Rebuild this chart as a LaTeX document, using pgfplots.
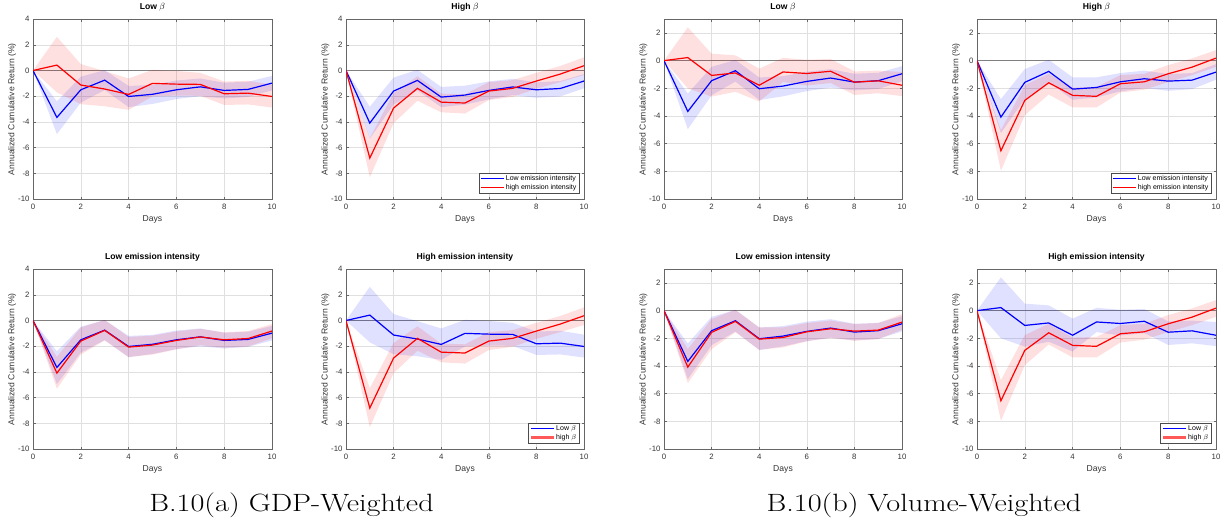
\documentclass[border=0pt]{standalone}
\usepackage{fontspec}
\setsansfont{Liberation Sans}
\usepackage{graphicx}
\usepackage{pgfplots}
\pgfplotsset{compat=1.18}
\usepackage{pgfplotstable}
\usepgfplotslibrary{fillbetween}

% ---------- Group (a): GDP-weighted ----------
% LL = low beta, low emission; LH = low beta, high emission; HL = high beta, low emission; HH = high beta, high emission
\pgfplotstableread{
x m lo hi
0 0 0 0
1 -3.65 -4.95 -2.40
2 -1.50 -2.50 -0.48
3 -0.75 -1.52 0.03
4 -2.02 -2.85 -1.20
5 -1.85 -2.60 -1.12
6 -1.50 -2.22 -0.78
7 -1.27 -2.00 -0.62
8 -1.55 -2.18 -0.95
9 -1.47 -2.05 -0.87
10 -0.98 -1.55 -0.42
}\LLa
\pgfplotstableread{
x m lo hi
0 0 0 0
1 0.42 -1.70 2.62
2 -1.13 -2.62 0.50
3 -1.44 -2.78 -0.05
4 -1.86 -3.06 -0.62
5 -1.00 -2.02 0.05
6 -1.06 -1.95 -0.04
7 -1.08 -1.97 -0.18
8 -1.81 -2.68 -0.86
9 -1.76 -2.64 -0.80
10 -2.02 -2.88 -1.10
}\LHa
\pgfplotstableread{
x m lo hi
0 0 0 0
1 -4.09 -5.30 -2.82
2 -1.60 -2.65 -0.55
3 -0.77 -1.55 0.05
4 -2.07 -2.85 -1.28
5 -1.91 -2.65 -1.18
6 -1.55 -2.25 -0.85
7 -1.28 -1.92 -0.65
8 -1.50 -2.12 -0.92
9 -1.40 -2.02 -0.82
10 -0.82 -1.38 -0.28
}\HLa
\pgfplotstableread{
x m lo hi
0 0 0 0
1 -6.81 -8.30 -5.26
2 -2.92 -4.10 -1.75
3 -1.39 -2.35 -0.45
4 -2.46 -3.25 -1.80
5 -2.53 -3.35 -1.85
6 -1.60 -2.30 -0.90
7 -1.39 -2.05 -0.75
8 -0.82 -1.42 -0.18
9 -0.28 -0.90 0.35
10 0.37 -0.35 1.02
}\HHa

% ---------- Group (b): volume-weighted ----------
\pgfplotstableread{
x m lo hi
0 0 0 0
1 -3.67 -4.95 -2.38
2 -1.45 -2.50 -0.45
3 -0.73 -1.52 0.05
4 -2.03 -2.85 -1.22
5 -1.84 -2.58 -1.12
6 -1.50 -2.20 -0.80
7 -1.26 -1.95 -0.62
8 -1.55 -2.15 -0.95
9 -1.45 -2.05 -0.88
10 -0.95 -1.50 -0.40
}\LLb
\pgfplotstableread{
x m lo hi
0 0 0 0
1 0.22 -2.00 2.40
2 -1.07 -2.60 0.50
3 -0.89 -2.25 0.38
4 -1.78 -2.95 -0.58
5 -0.82 -1.55 0.20
6 -0.93 -1.80 0.06
7 -0.77 -1.62 0.12
8 -1.56 -2.48 -0.78
9 -1.46 -2.36 -0.72
10 -1.78 -2.56 -0.82
}\LHb
\pgfplotstableread{
x m lo hi
0 0 0 0
1 -4.08 -5.23 -2.78
2 -1.57 -2.78 -0.61
3 -0.78 -1.55 0.06
4 -2.06 -2.83 -1.21
5 -1.94 -2.66 -1.21
6 -1.53 -2.22 -0.90
7 -1.31 -1.98 -0.72
8 -1.48 -2.18 -0.97
9 -1.41 -2.06 -0.90
10 -0.83 -1.38 -0.25
}\HLb
\pgfplotstableread{
x m lo hi
0 0 0 0
1 -6.51 -7.95 -5.02
2 -2.87 -3.94 -1.77
3 -1.60 -2.45 -0.95
4 -2.51 -3.38 -1.95
5 -2.58 -3.38 -1.90
6 -1.67 -2.30 -1.05
7 -1.53 -2.10 -0.95
8 -0.95 -1.55 -0.32
9 -0.47 -1.05 0.16
10 0.18 -0.45 0.76
}\HHb

% confidence band (fill between goes to layer "pre main", below the lines)
\newcommand{\band}[3]{% table, colour, name
  \addplot[name path=#3lo, draw=none, forget plot] table[x=x,y=lo]{#1};
  \addplot[name path=#3hi, draw=none, forget plot] table[x=x,y=hi]{#1};
  \addplot[fill=#2, fill opacity=0.12, draw=none, forget plot] fill between[of=#3lo and #3hi];
}
\newcommand{\zeroline}{%
  \addplot[black!50, line width=0.6pt, forget plot, on layer=pre main] coordinates {(0,0) (10,0)};
}
% one panel: blue series table, red series table
\newcommand{\lines}[2]{%
  \addplot[blue, line width=1.2pt, forget plot] table[x=x,y=m]{#1};
  \addplot[red, line width=1.2pt, forget plot] table[x=x,y=m]{#2};
  \zeroline
  \band{#1}{blue}{b} \band{#2}{red}{r}
}

\pgfplotsset{
  panel/.style={
    set layers,
    scale only axis, width=239pt, height=180pt,
    xmin=0, xmax=10, xtick={0,2,...,10},
    grid=major, major grid style={black!12, line width=0.5pt},
    axis line style={black!60, line width=0.6pt},
    every tick/.style={black!60, line width=0.5pt},
    tick align=inside, major tick length=2.5pt,
    /pgf/number format/assume math mode=true,
    tick label style={font=\sffamily\fontsize{7.8}{9}\selectfont, text=black!80},
    xticklabel shift=1.5pt,
    xlabel={Days}, ylabel={Annualized Cumulative Return (\%)},
    label style={font=\sffamily\fontsize{8.6}{10}\selectfont, text=black!80},
    xlabel style={at={(axis description cs:0.5,0)}, anchor=base, yshift=-22.7pt},
    ylabel style={at={(axis description cs:-0.0775,0.5)}, anchor=base},
    title style={font=\sffamily\bfseries\fontsize{8.6}{10}\selectfont, text=black,
                 at={(axis description cs:0.5,1)}, anchor=base, yshift=3.5pt},
    legend style={font=\sffamily\fontsize{7}{8}\selectfont,
                  at={(axis description cs:0.979,0.033)}, anchor=south east,
                  draw=black!70, inner xsep=1.5pt, inner ysep=1pt,
                  row sep=0.7pt, nodes={inner sep=1pt}},
    legend cell align=left,
  },
  ga/.style={ymin=-10, ymax=4, ytick={-10,-8,...,4}},
  gb/.style={ymin=-10, ymax=3, ytick={-10,-8,...,2}},
  legblue/.style={legend image code/.code={\draw[draw=blue, line width=1.4pt] (0pt,0pt) -- (23pt,0pt);}},
  legred/.style={legend image code/.code={\draw[draw=red, line width=1.6pt] (0pt,0pt) -- (23pt,0pt);}},
  legredb/.style={legend image code/.code={\draw[draw=red!65, line width=2.4pt] (0pt,0pt) -- (23pt,0pt);}},
}

\begin{document}
\begin{tikzpicture}
\path (0,0) rectangle (1225pt,519pt);

% ================= Group (a) =================
\begin{axis}[panel, ga, at={(33pt,325pt)}, anchor=south west, width=239pt, title={Low $\beta$}]
  \lines{\LLa}{\LHa}
\end{axis}

\begin{axis}[panel, ga, at={(346pt,325pt)}, anchor=south west, width=238pt, title={High $\beta$}]
  \addlegendimage{legblue}
  \addlegendentry{Low emission intensity}
  \addlegendimage{legred}
  \addlegendentry{high emission intensity}
  \lines{\HLa}{\HHa}
\end{axis}

\begin{axis}[panel, ga, at={(33pt,75pt)}, anchor=south west, width=239pt, title={Low emission intensity}]
  \lines{\LLa}{\HLa}
\end{axis}

\begin{axis}[panel, ga, at={(346pt,75pt)}, anchor=south west, width=238pt, title={High emission intensity}]
  \addlegendimage{legblue}
  \addlegendentry{Low $\beta$}
  \addlegendimage{legredb}
  \addlegendentry{high $\beta$}
  \lines{\LHa}{\HHa}
\end{axis}

% ================= Group (b) =================
\begin{axis}[panel, gb, at={(664pt,325pt)}, anchor=south west, width=238pt, title={Low $\beta$}]
  \lines{\LLb}{\LHb}
\end{axis}

\begin{axis}[panel, gb, at={(977pt,325pt)}, anchor=south west, width=239pt, title={High $\beta$}]
  \addlegendimage{legblue}
  \addlegendentry{Low emission intensity}
  \addlegendimage{legred}
  \addlegendentry{high emission intensity}
  \lines{\HLb}{\HHb}
\end{axis}

\begin{axis}[panel, gb, at={(664pt,75pt)}, anchor=south west, width=238pt, title={Low emission intensity}]
  \lines{\LLb}{\HLb}
\end{axis}

\begin{axis}[panel, gb, at={(977pt,75pt)}, anchor=south west, width=239pt, title={High emission intensity}]
  \addlegendimage{legblue}
  \addlegendentry{Low $\beta$}
  \addlegendimage{legredb}
  \addlegendentry{high $\beta$}
  \lines{\LHb}{\HHb}
\end{axis}

% ================= Captions =================
\node[anchor=base] at (291.5pt,13pt) {\rmfamily\fontsize{25}{30}\selectfont\scalebox{1.21}[1]{B.10(a) GDP-Weighted}};
\node[anchor=base] at (924pt,13pt) {\rmfamily\fontsize{25}{30}\selectfont\scalebox{1.21}[1]{B.10(b) Volume-Weighted}};
\end{tikzpicture}
\end{document}
